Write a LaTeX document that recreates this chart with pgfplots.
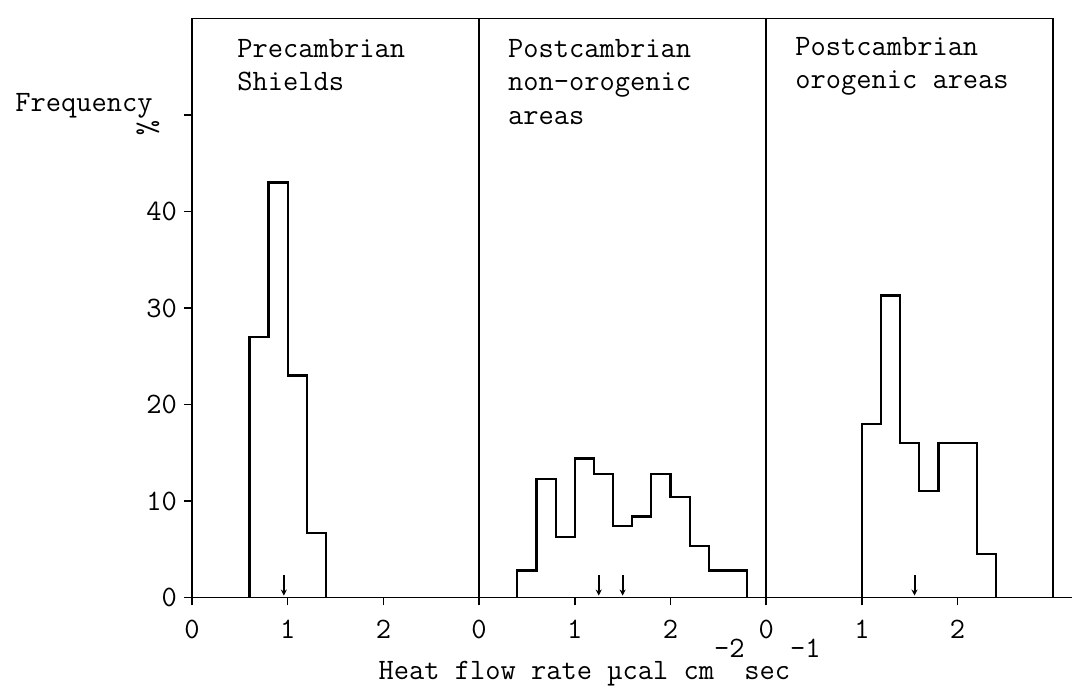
\documentclass[border=0pt]{standalone}
\usepackage{fontspec}
\usepackage{pgfplots}
\pgfplotsset{compat=1.18}
\usepackage{pgfplotstable}
\usetikzlibrary{arrows.meta}
\renewcommand*{\familydefault}{\ttdefault}

% bin left edge, frequency (%)
\pgfplotstableread{
x y
0.6 0
0.6 27
0.8 43
1.0 23
1.2 6.7
1.4 0
}\precambrian

\pgfplotstableread{
x y
0.4 0
0.4 2.8
0.6 12.3
0.8 6.3
1.0 14.4
1.2 12.8
1.4 7.4
1.6 8.4
1.8 12.8
2.0 10.4
2.2 5.3
2.4 2.8
2.6 2.8
2.8 0
}\nonorogenic

\pgfplotstableread{
x y
1.0 0
1.0 18
1.2 31.3
1.4 16
1.6 11
1.8 16
2.0 16
2.2 4.5
2.4 0
}\orogenic

\newcommand{\ttl}{\ttfamily\fontsize{14.8}{18}\selectfont}

\begin{document}
\ttfamily
\begin{tikzpicture}
\begin{axis}[
  at={(0,0)}, anchor=south west,
  x=47.85pt, y=4.825pt,
  xmin=0, xmax=9.2, ymin=0, ymax=60,
  axis lines=left,
  axis line style={-, line width=0.9pt},
  clip=false,
  xtick={0,...,8},
  xticklabels={\texttt{0},\texttt{1},\texttt{2},\texttt{0},\texttt{1},\texttt{2},\texttt{0},\texttt{1},\texttt{2}},
  ytick={0,10,...,50},
  yticklabels={\texttt{0},\texttt{10},\texttt{20},\texttt{30},\texttt{40},{}},
  tick align=outside, major tick length=4pt,
  tick style={line width=0.8pt, black},
  tick label style={font=\ttl},
  xticklabel style={yshift=-4pt},
  no markers,
  every axis plot/.append style={black},
]
% panel frame
\addplot[line width=0.9pt] coordinates {(0,60) (9,60)};
\addplot[line width=0.9pt] coordinates {(3,0) (3,60)};
\addplot[line width=0.9pt] coordinates {(6,0) (6,60)};
\addplot[line width=0.9pt] coordinates {(9,0) (9,60)};

% histograms
\addplot[const plot, line width=1.1pt] table[x=x, y=y] {\precambrian};
\addplot[const plot, line width=1.1pt] table[x expr=\thisrow{x}+3, y=y] {\nonorogenic};
\addplot[const plot, line width=1.1pt] table[x expr=\thisrow{x}+6, y=y] {\orogenic};

% mean markers
\addplot[line width=1pt, -{Stealth[length=3pt,width=3pt]}] coordinates {(0.96,2.3) (0.96,0.2)};
\addplot[line width=1pt, -{Stealth[length=3pt,width=3pt]}] coordinates {(4.25,2.3) (4.25,0.2)};
\addplot[line width=1pt, -{Stealth[length=3pt,width=3pt]}] coordinates {(4.50,2.3) (4.50,0.2)};
\addplot[line width=1pt, -{Stealth[length=3pt,width=3pt]}] coordinates {(7.55,2.3) (7.55,0.2)};

% titles
\node[anchor=base west, font=\ttl, inner sep=0pt] at (axis cs:0.47,56.0) {Precambrian};
\node[anchor=base west, font=\ttl, inner sep=0pt] at (axis cs:0.47,52.5) {Shields};
\node[anchor=base west, font=\ttl, inner sep=0pt] at (axis cs:3.30,56.0) {Postcambrian};
\node[anchor=base west, font=\ttl, inner sep=0pt] at (axis cs:3.30,52.5) {non-orogenic};
\node[anchor=base west, font=\ttl, inner sep=0pt] at (axis cs:3.30,49.0) {areas};
\node[anchor=base west, font=\ttl, inner sep=0pt] at (axis cs:6.30,56.2) {Postcambrian};
\node[anchor=base west, font=\ttl, inner sep=0pt] at (axis cs:6.30,52.7) {orogenic areas};

% y label
\node[anchor=base west, font=\ttl, inner sep=0pt] at (axis cs:-1.85,50.4) {Frequency};
\node[font=\ttl, inner sep=0pt, rotate=-90] at (axis cs:-0.46,48.6) {\%};

% x label
\node[anchor=base, font=\ttl, inner sep=0pt] at (axis cs:4.26,-8.55)
  {Heat flow rate µcal cm\raisebox{11pt}{-2}sec\raisebox{11pt}{-1}};
\end{axis}
\pgfresetboundingbox
\useasboundingbox (-96pt,-45.25pt) rectangle (440pt,298.75pt);
\end{tikzpicture}
\end{document}
